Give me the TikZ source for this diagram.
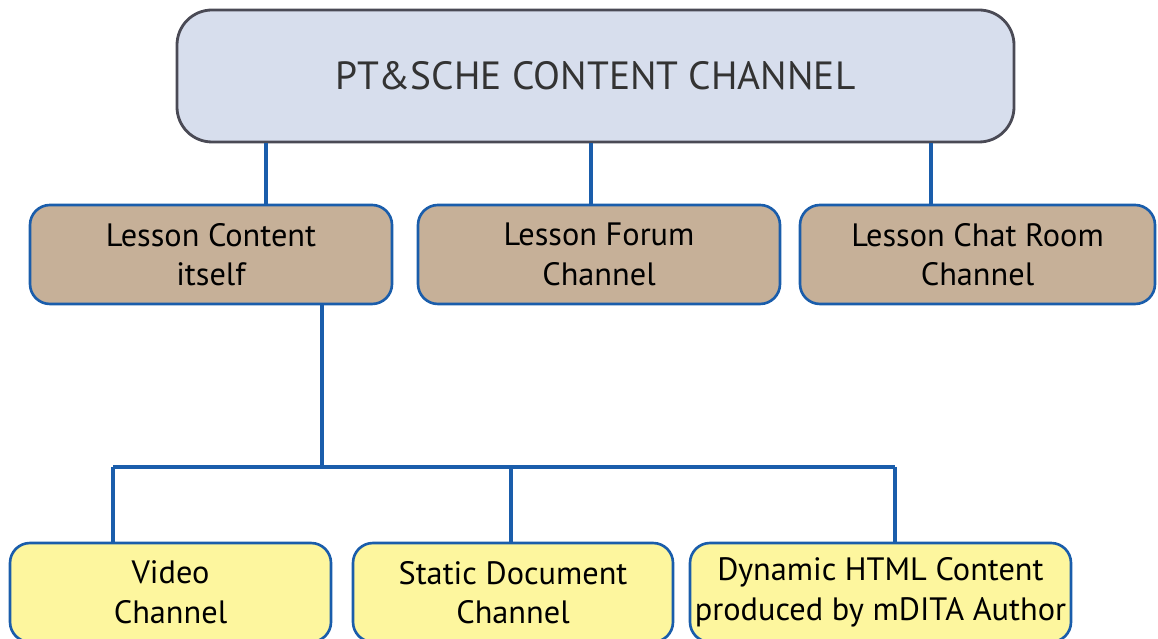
\documentclass[tikz,border=0pt]{standalone}
\usepackage{fontspec}
\setmainfont{PT Sans}
\usepackage{tikz}
\usetikzlibrary{positioning, calc}
\definecolor{LinkBlue}{HTML}{1A5DAB}
\definecolor{HeadFill}{HTML}{D7DEED}
\definecolor{HeadEdge}{HTML}{4A4A55}
\definecolor{TanFill}{HTML}{C6B098}
\definecolor{PaleYellow}{HTML}{FDF69E}
\definecolor{InkGray}{HTML}{333333}

\begin{document}
\begin{tikzpicture}[
    headbox/.style={draw=HeadEdge, line width=1.6pt, fill=HeadFill, rounded corners=0.7cm,
                    minimum width=16.74cm, minimum height=2.64cm, inner sep=0pt,
                    font=\fontsize{22.4}{26}\selectfont, text=InkGray},
    midbox/.style={draw=LinkBlue, line width=1.5pt, fill=TanFill, rounded corners=0.4cm,
                   minimum height=1.98cm, inner sep=0pt, align=center,
                   font=\fontsize{18.4}{22.5}\selectfont},
    leafbox/.style={draw=LinkBlue, line width=1.5pt, fill=PaleYellow, rounded corners=0.4cm,
                    minimum height=1.98cm, inner sep=0pt, align=center,
                    font=\fontsize{18.4}{22.5}\selectfont},
    link/.style={LinkBlue, line width=2.2pt}
]
    \useasboundingbox (0,0) rectangle (23.16,12.76);
    \clip (0,0) rectangle (23.16,12.76);

    % Top channel
    \node[headbox] (top) at (11.91,11.24) {PT\&SCHE CONTENT CHANNEL};

    % Second level
    \node[midbox, minimum width=7.24cm] (content) at (4.22,7.67) {Lesson Content\\itself};
    \node[midbox, minimum width=7.24cm] (forum) at (11.98,7.67) {Lesson Forum\\Channel};
    \node[midbox, minimum width=7.1cm] (chat) at (19.55,7.67) {Lesson Chat Room\\Channel};

    % Third level
    \node[leafbox, minimum width=6.42cm] (video) at (3.41,0.91) {Video\\Channel};
    \node[leafbox, minimum width=6.4cm] (static) at (10.26,0.91) {Static Document\\Channel};
    \node[leafbox, minimum width=7.62cm] (dynamic) at (17.61,0.91) {Dynamic HTML Content\\produced by mDITA Author};

    % Links from the top
    \foreach \x/\child in {5.32/content, 11.82/forum, 18.62/chat} {
        \draw[link] (top.south -| \x,0) -- (\child.north -| \x,0);
    }

    % Links to the leaves
    \coordinate (fork) at (6.44,3.42);
    \coordinate (barleft) at (2.26,3.42);
    \coordinate (barright) at (17.9,3.42);
    \draw[link] (content.south -| fork) -- (fork);
    \draw[link] (barleft) -- (barright);
    \foreach \x/\child in {2.26/video, 10.22/static, 17.9/dynamic} {
        \draw[link] (fork -| \x,0) -- (\child.north -| \x,0);
    }
\end{tikzpicture}
\end{document}
